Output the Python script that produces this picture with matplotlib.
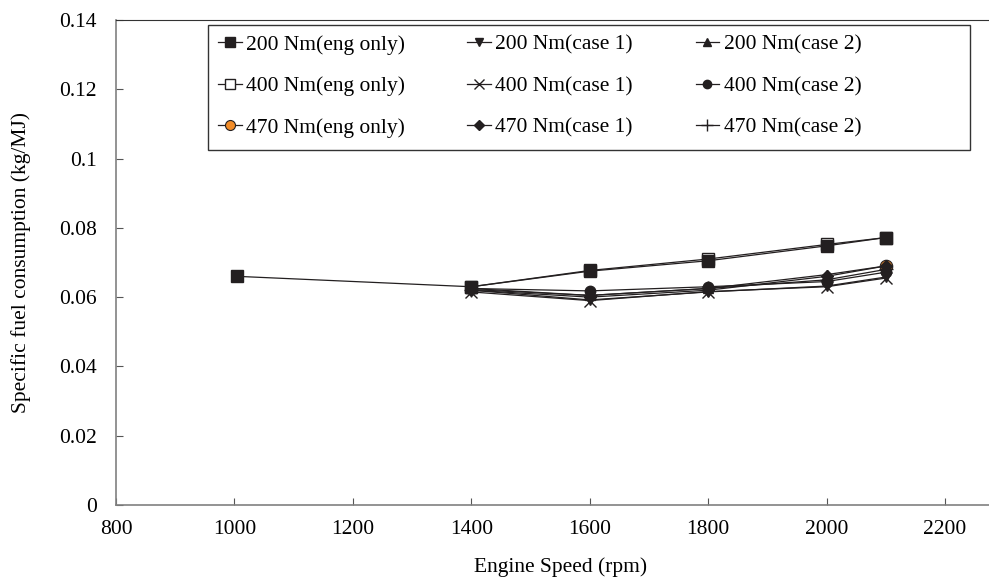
import matplotlib
matplotlib.use('Agg')
import matplotlib.pyplot as plt
from matplotlib.patches import Rectangle

plt.rcParams['font.family'] = ['Liberation Serif', 'DejaVu Serif']
plt.rcParams['font.size'] = 15.5

# engine speed (rpm)
speed_eng200 = [1005, 1400, 1600, 1800, 2000, 2100]
speed = [1400, 1600, 1800, 2000, 2100]
speed_470_eng = [2100]

# specific fuel consumption (kg/MJ)
sfc_200_eng = [0.0660, 0.0630, 0.0675, 0.0705, 0.0748, 0.0772]
sfc_400_eng = [0.0630, 0.0677, 0.0710, 0.0752, 0.0772]
sfc_470_eng = [0.0690]
sfc_200_c1 = [0.0620, 0.0592, 0.0615, 0.0632, 0.0658]
sfc_400_c1 = [0.0615, 0.0590, 0.0616, 0.0630, 0.0655]
sfc_470_c1 = [0.0620, 0.0600, 0.0620, 0.0660, 0.0690]
sfc_200_c2 = [0.0625, 0.0605, 0.0625, 0.0665, 0.0690]
sfc_400_c2 = [0.0625, 0.0618, 0.0630, 0.0645, 0.0672]
sfc_470_c2 = [0.0622, 0.0605, 0.0625, 0.0650, 0.0680]

labels = ['200 Nm(eng only)', '400 Nm(eng only)', '470 Nm(eng only)',
          '200 Nm(case 1)', '400 Nm(case 1)', '470 Nm(case 1)',
          '200 Nm(case 2)', '400 Nm(case 2)', '470 Nm(case 2)']

ink = '#231f20'

fig = plt.figure(figsize=(9.89, 5.81), dpi=100)
ax = fig.add_axes([0.1173, 0.1308, 0.898, 0.8348])

line_kw = dict(color=ink, lw=0.9)
ax.plot(speed_eng200, sfc_200_eng, marker='s', ms=8.5, mfc=ink, mec=ink, label=labels[0], **line_kw)
ax.plot(speed, sfc_400_eng, marker='s', ms=8.5, mfc='white', mec=ink, label=labels[1], zorder=1.9, **line_kw)
ax.plot(speed_470_eng, sfc_470_eng, marker='o', ms=9, mfc='#f28c28', mec=ink, mew=0.8, label=labels[2], **line_kw)
ax.plot(speed, sfc_200_c1, marker='v', ms=7, mfc=ink, mec=ink, label=labels[3], **line_kw)
ax.plot(speed, sfc_400_c1, marker='x', ms=9, mec=ink, mew=1.0, label=labels[4], **line_kw)
ax.plot(speed, sfc_470_c1, marker='D', ms=6, mfc=ink, mec=ink, label=labels[5], **line_kw)
ax.plot(speed, sfc_200_c2, marker='^', ms=7, mfc=ink, mec=ink, label=labels[6], **line_kw)
ax.plot(speed, sfc_400_c2, marker='o', ms=7.5, mfc=ink, mec=ink, label=labels[7], **line_kw)
ax.plot(speed, sfc_470_c2, marker='+', ms=10, mec=ink, mew=1.0, label=labels[8], **line_kw)

ax.set_xlim(800, 2300)
ax.set_ylim(0, 0.14)
ax.set_xticks([800, 1000, 1200, 1400, 1600, 1800, 2000, 2200])
ax.set_yticks([0, 0.02, 0.04, 0.06, 0.08, 0.1, 0.12, 0.14])
ax.set_yticklabels(['0', '0.02', '0.04', '0.06', '0.08', '0.1', '0.12', '0.14'])
ax.tick_params(direction='in', length=5, width=0.8, color='#555555')
ax.tick_params(axis='x', pad=11)
ax.tick_params(axis='y', pad=14)

for side in ['left', 'bottom']:
    ax.spines[side].set_color('#808080')
    ax.spines[side].set_linewidth(1.2)
ax.spines['top'].set_color('#333333')
ax.spines['right'].set_visible(False)

ax.set_xlabel('Engine Speed (rpm)', labelpad=13)
ax.set_ylabel('Specific fuel consumption (kg/MJ)', labelpad=20)

# legend box drawn separately so the columns keep their natural widths
ax.add_patch(Rectangle((0.1036, 0.732), 0.858, 0.258, transform=ax.transAxes,
                       fill=True, facecolor='white', edgecolor='#333333', lw=1.0, zorder=4))
leg = ax.legend(ncol=3, loc='upper left', bbox_to_anchor=(0.104, 0.99),
                frameon=False, handlelength=1.1, handletextpad=0.2,
                columnspacing=2.9, labelspacing=1.0, borderaxespad=0,
                borderpad=0.45, markerscale=0.8, fontsize=15.5)
leg.set_zorder(5)

fig.savefig('out.png', dpi=100)
